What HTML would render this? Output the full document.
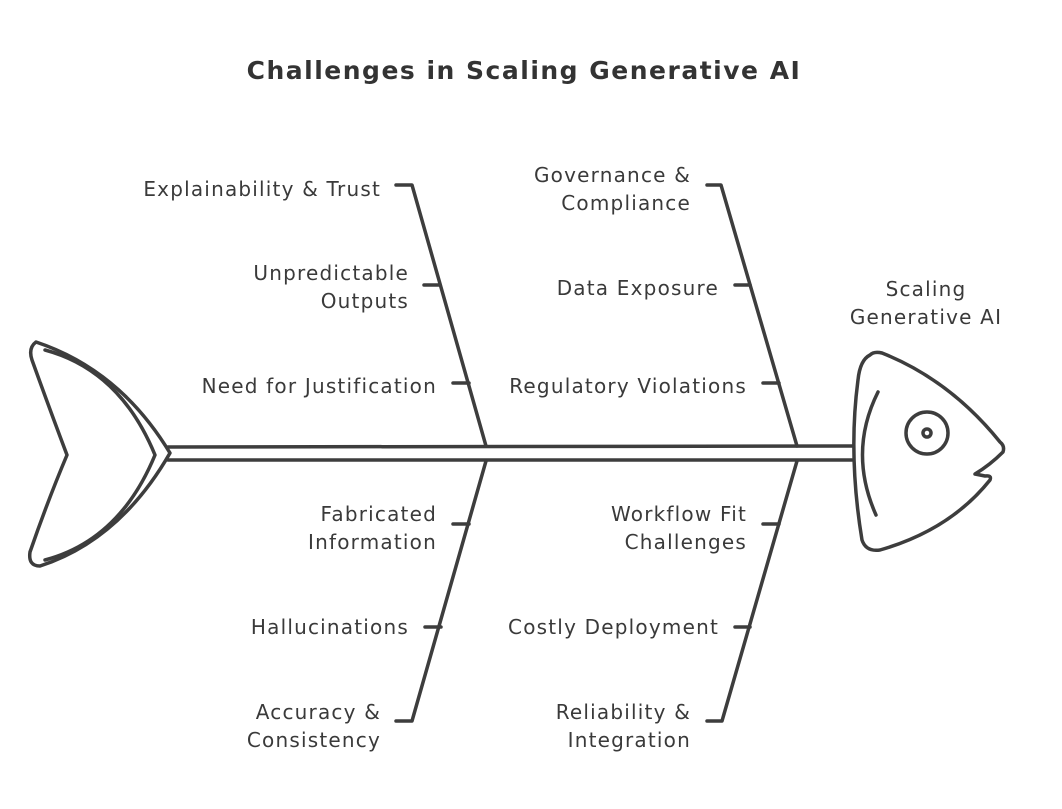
<!DOCTYPE html>
<html><head><meta charset="utf-8"><style>
html,body{margin:0;padding:0;background:#fff;}
svg{display:block;}
text{font-family:"DejaVu Sans","Liberation Sans",sans-serif;fill:#3a3a3a;font-size:20px;letter-spacing:1.2px;}
</style></head><body>
<svg width="1062" height="809" viewBox="0 0 1062 809" xmlns="http://www.w3.org/2000/svg">
<g fill="none" stroke="#3d3d3d" stroke-width="3.5" stroke-linecap="round" stroke-linejoin="round">
<line x1="168" y1="447" x2="852" y2="446"/>
<line x1="168" y1="460" x2="852" y2="460"/>
<path d="M36,342 Q28,348 32,360 Q50,410 67,455 Q48,500 30,552 Q28,566 40,566 Q120,540 170,453 Q120,370 36,342 Z"/>
<path d="M45,350 Q120,370 155,455 Q120,540 45,560"/>
<path d="M870,355 Q860,360 858,380 Q848,455 862,540 Q866,552 880,550 Q950,530 990,480 Q992,475 985,476 L975,474 Q990,465 1003,452 Q1005,446 1000,442 Q950,380 882,353 Q874,351 870,355 Z"/>
<path d="M878,392 Q848,452 876,515"/>
<circle cx="927" cy="433" r="21"/>
<circle cx="927" cy="433" r="4"/>
<path d="M396,185 L412,185 L486,446"/>
<line x1="424" y1="285" x2="440" y2="285"/>
<line x1="453" y1="383" x2="469" y2="383"/>
<path d="M707,185 L721,185 L797,446"/>
<line x1="735" y1="285" x2="750" y2="285"/>
<line x1="763" y1="383" x2="779" y2="383"/>
<path d="M486,461 L412,721 L396,721"/>
<line x1="453" y1="524" x2="469" y2="524"/>
<line x1="425" y1="627" x2="441" y2="627"/>
<path d="M797,461 L722,721 L707,721"/>
<line x1="763" y1="524" x2="779" y2="524"/>
<line x1="735" y1="627" x2="750" y2="627"/>
</g>
<text x="524" y="79" text-anchor="middle" style="font-size:25px;font-weight:bold;fill:#333;letter-spacing:1.5px">Challenges in Scaling Generative AI</text>
<g text-anchor="end">
<text x="381" y="196">Explainability &amp; Trust</text>
<text x="409" y="280">Unpredictable</text>
<text x="409" y="308">Outputs</text>
<text x="437" y="393">Need for Justification</text>
<text x="691" y="182">Governance &amp;</text>
<text x="691" y="210">Compliance</text>
<text x="719" y="295">Data Exposure</text>
<text x="747" y="393">Regulatory Violations</text>
<text x="437" y="521">Fabricated</text>
<text x="437" y="549">Information</text>
<text x="409" y="634">Hallucinations</text>
<text x="381" y="719">Accuracy &amp;</text>
<text x="381" y="747">Consistency</text>
<text x="747" y="521">Workflow Fit</text>
<text x="747" y="549">Challenges</text>
<text x="719" y="634">Costly Deployment</text>
<text x="691" y="719">Reliability &amp;</text>
<text x="691" y="747">Integration</text>
</g>
<text x="926" y="296" text-anchor="middle">Scaling</text>
<text x="926" y="324" text-anchor="middle">Generative AI</text>
</svg>
</body></html>
